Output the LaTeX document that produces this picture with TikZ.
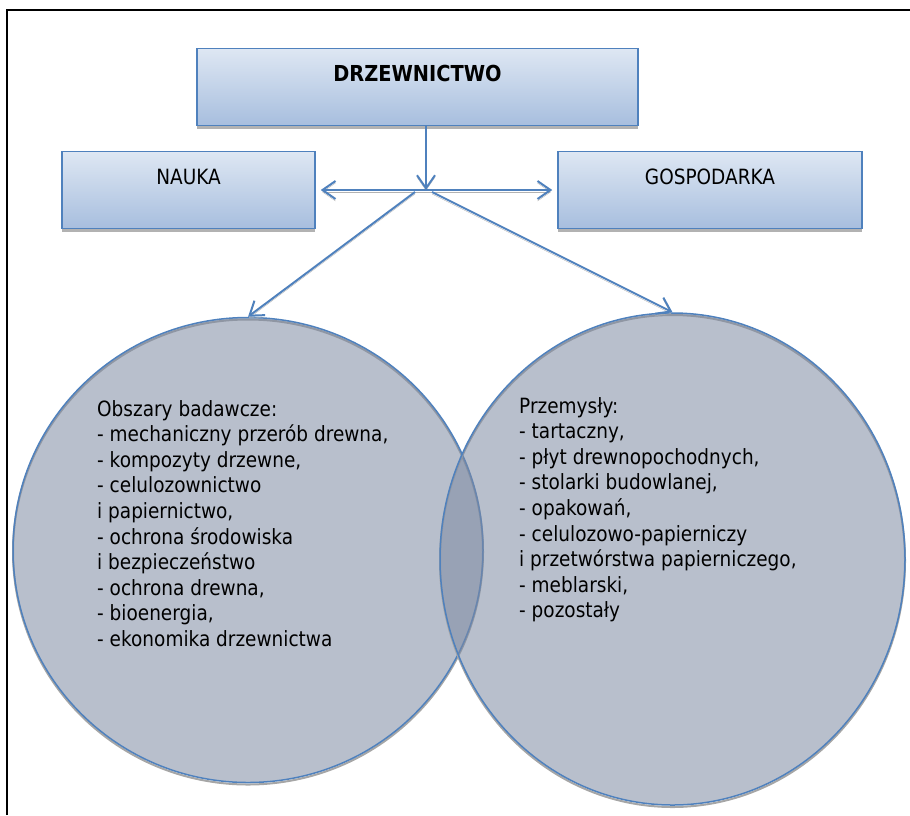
\documentclass[tikz,border=0pt]{standalone}
\usepackage{fontspec}
\setmainfont{DejaVu Sans}[FakeStretch=0.88]
\usetikzlibrary{shapes.geometric,arrows.meta,shadows}
\definecolor{ramka}{RGB}{79,129,189}
\definecolor{jasny}{RGB}{222,231,243}
\definecolor{ciemny}{RGB}{167,190,222}
\definecolor{kolo}{RGB}{125,138,162}

\begin{document}
\begin{tikzpicture}[x=1pt,y=-1pt,
        pole/.style={draw=ramka,line width=1.5pt,top color=jasny,bottom color=ciemny,
            minimum height=77pt,inner sep=0pt,text height=15pt,text depth=26pt,
            font=\fontsize{21}{25}\selectfont,
            drop shadow={shadow xshift=0pt,shadow yshift=-3pt,fill=black!60,opacity=0.5}},
        kolo/.style={ellipse,draw=ramka,line width=1.5pt,fill=kolo,fill opacity=0.55,inner sep=0pt,
            preaction={draw=black!35,line width=2pt,transform canvas={yshift=-2pt}}},
        opis/.style={anchor=north west,align=left,inner sep=0pt,font=\fontsize{21}{25.6}\selectfont},
        strzalka/.style={draw=ramka,line width=2pt,-{Straight Barb[length=13pt,width=18pt]},
            preaction={draw=black!30,transform canvas={yshift=-2pt}}}]
    \useasboundingbox (0,0) rectangle (910,815);
    \draw[line width=2pt] (6.5,815) -- (6.5,10) -- (910,10);

    \node[kolo,minimum width=470pt,minimum height=465pt] (badania) at (248,550) {};
    \node[kolo,minimum width=465pt,minimum height=492pt] (przemysly) at (672.5,559) {};

    \node[pole,minimum width=441pt,font=\fontsize{22}{25}\selectfont\bfseries] (drzewnictwo) at (417.5,87) {DRZEWNICTWO};
    \node[pole,minimum width=253pt] (nauka) at (188.5,190) {NAUKA};
    \node[pole,minimum width=304pt] (gospodarka) at (710,190) {GOSPODARKA};

    \node[opis] (badaniaOpis) at (97,400) {Obszary badawcze:\\
        - mechaniczny przerób drewna,\\
        - kompozyty drzewne,\\
        - celulozownictwo\\
        i papiernictwo,\\
        - ochrona środowiska\\
        i bezpieczeństwo\\
        - ochrona drewna,\\
        - bioenergia,\\
        - ekonomika drzewnictwa};
    \node[opis] (przemyslyOpis) at (519,397) {Przemysły:\\
        - tartaczny,\\
        - płyt drewnopochodnych,\\
        - stolarki budowlanej,\\
        - opakowań,\\
        - celulozowo-papierniczy\\
        i przetwórstwa papierniczego,\\
        - meblarski,\\
        - pozostały};

    \coordinate (hub) at (426,190);
    \coordinate (hubL) at (415,192);
    \coordinate (hubR) at (432,192);

    \draw [strzalka] (drzewnictwo.south -| hub) -- (hub);
    \draw [strzalka,{Straight Barb[length=13pt,width=18pt]}-{Straight Barb[length=13pt,width=18pt]},
        shorten <=5pt,shorten >=5pt] (nauka) -- (gospodarka);
    \draw [strzalka] (hubL) -- (badania.north);
    \draw [strzalka] (hubR) -- (przemysly.north);
\end{tikzpicture}
\end{document}
